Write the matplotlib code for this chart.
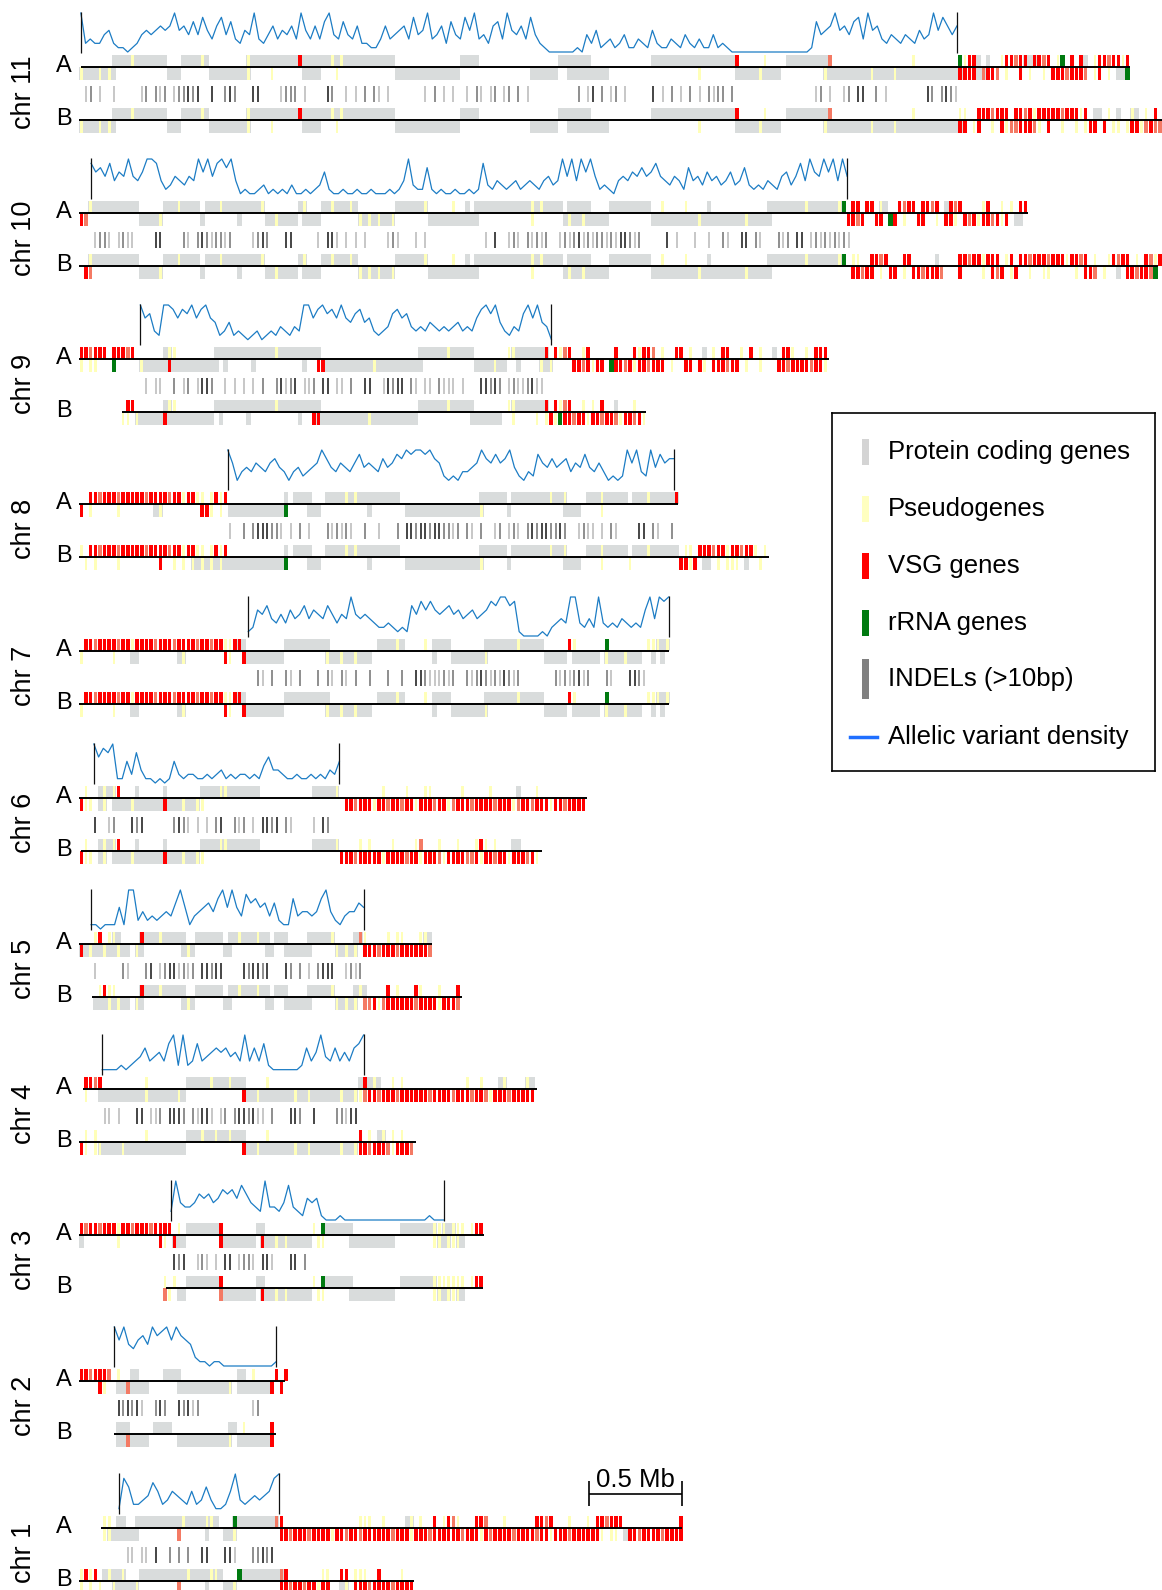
import re
import numpy as np
import matplotlib
matplotlib.use("Agg")
import matplotlib.pyplot as plt
from matplotlib.patches import Rectangle
from matplotlib.transforms import blended_transform_factory

plt.rcParams["font.family"] = ["Liberation Sans", "DejaVu Sans"]

# every feature / indel character is one 0.025 Mb bin, counted from 0 Mb
# codes: . nothing, g protein coding, y pseudogene, r VSG, o VSG (pale), G rRNA
# indels: a light, b mid, c dark.  "12g" = 12 bins of g
BIN = 0.025

CHROMS = ["chr 11", "chr 10", "chr 9", "chr 8", "chr 7", "chr 6",
          "chr 5", "chr 4", "chr 3", "chr 2", "chr 1"]

A_SPAN = [(0.01, 5.65), (0.0, 5.10), (0.0, 4.03), (0.0, 3.22), (0.0, 3.17), (0.0, 2.73),
          (0.0, 1.90), (0.02, 2.46), (0.0, 2.18), (0.0, 1.11), (0.12, 3.24)]
B_SPAN = [(0.0, 5.82), (0.0, 5.80), (0.23, 3.05), (0.0, 3.71), (0.0, 3.17), (0.01, 2.49),
          (0.07, 2.06), (0.0, 1.81), (0.47, 2.17), (0.19, 1.06), (0.0, 1.80)]
CORE = [(0.01, 4.72), (0.065, 4.13), (0.33, 2.54), (0.80, 3.20), (0.91, 3.17), (0.08, 1.40),
        (0.065, 1.53), (0.125, 1.53), (0.495, 1.96), (0.19, 1.06), (0.215, 1.075)]

# ---- chr 11
CHR11_A_TOP = ("7. 4g 1y 7g 3. 4g 1y 1g 8. 1y 10g 1r 6g 1y 1g 1y 11g 14. 4g 17. 7g 13. 18g 1r 5. 1y 4. 9g 1o 17. 1y 9. "
               "Gyrrg.g..yrrorrgrror.yG.r.rg.yrrorryr")
CHR11_A_BOT = ("1y 3g 1y 1g 1y 1g 11. 3g 6. 8g 1y 4. 1y 6. 4g 3. 1y 12. 14g 15. 6g 2. 9g 19. 1y 7. 5g 1y 4g 9. 1y 9g 1y 4g 1y 13g "
               "rrrrgorro.y..r.y..y.rrrorrro.yr.y.ggG")
CHR11_B_TOP = ("7. 4g 1y 7g 3. 4g 1y 1g 8. 1y 10g 1r 6g 1y 1g 1y 11g 14. 4g 17. 7g 13. 18g 1r 5. 1y 4. 9g 1o 17. 1y 9. "
               "yy..rrrorrr.rroryrrrrrorrryr.gg.y.g..yg.y.r.")
CHR11_B_BOT = ("1y 3g 1y 1g 1y 1g 11. 3g 6. 8g 1y 4. 1y 6. 4g 3. 1y 12. 14g 15. 6g 2. 9g 19. 1y 7. 5g 1y 4g 9. 1y 9g 1y 4g 1y 13g "
               "rr.yr..y.ryoorrroy.r..y..y.yrr.r.yy.yrryoroo")
# ---- chr 10
CHR10_A_TOP = ("2. 1y 10g 5. 3g 1y 4g 1. 3g 1y 8g 1y 7. 1g 1y 3. 2g 1y 3g 1y 1g 8. 6g 1y 5. 1y 2. 1g 1. 12g 1y 1g 1y 4g 1. "
               "5g 4. 9g 2. 1y 4. 1y 4. 1g 12. 8g 1y 6g 1y 1G .rr.rr.yg..rorr.rror.gror....yr..y.y.rr")
CHR10_A_BOT = ("1r 1o 11. 4g 1y 8. 1g 7. 1g 5. 2g 1y 4g 1. 4g 8. 1y 1g 1y 1g 1y 2g 1y 7. 11g 11. 1y 6. 1g 1y 2g 1y 5g 9. "
               "10g 1y 9g 1y 5g 16. rror..rr.G r.y..rr..y .rry.roryr roryr.gg.")
CHR10_B_TOP = ("2. 1y 10g 5. 3g 1y 4g 1. 3g 1y 8g 1y 7. 1g 1y 3. 2g 1y 3g 1y 1g 8. 6g 1y 5. 1y 2. 1g 1. 12g 1y 1g 1y 4g 1. "
               "5g 4. 9g 2. 1y 4. 1y 4. 1g 12. 8g 1y 6g 1y 1G "
               ".yy..rror. ..rr.....g ....rrorry rrr.yr.rro rrrorrryrr or.y..yror r.y.royr")
CHR10_B_BOT = ("1. 1r 1o 10. 4g 1y 8. 1g 7. 1g 5. 2g 1y 4g 1. 4g 8. 1y 1g 1y 1g 1y 2g 1y 7. 11g 11. 1y 6. 1g 1y 2g 1y 5g 9. "
               "10g 1y 9g 1y 5g 16. .rrorr.y.r r.y.rrorrr o...r....y .ror.yr..y ..yy.....y .rro.y..g. rrorroG.")
# ---- chr 9
CHR9_A_TOP = ("rrorrr.rrror 6. 1g 2y 8. 13g 1y 9g 21. 6g 1y 5g 7. 2y 6g 1r 1. ryor 2. 1y 1r 5. 1r 3. ryrro "
              ".y..rr.y..g.y.rr..y.r.y..g.rry..y.rrr")
CHR9_A_BOT = ("y.yy 3. 1G 5. 1y 5g 1r 10g 1. 1g 5. 1g 10. 1g 2. 2r 10g 1y 10g 11. 4g 1y 2g 2. 1g 4. 1y 1g 1y 4. "
              "rroryrr 1. 1G rroryrrorr r.y..rr.ry.rrrorr.y..y...rrorrrrorry")
CHR9_B_TOP = "10. rr 6. 1g 2y 8. 13g 1y 9g 21. 6g 1y 5g 7. 2y 6g 1r 1. ryor 2. 1y 1. 1y 1. 1r 2. 1g 3. 1y 2."
CHR9_B_BOT = ("9. 2y 1. 1y 5g 1r 10g 1. 1g 5. 1g 10. 1g 2. 2r 10g 1y 10g 11. 7g 2. 1y 4. 1y 1. 1y "
              "ryGrrorryrrorroyrrory")
# ---- chr 8
CHR8_A_TOP = ("2. rrorrrorrrrrorrrrorryrr yy.y ryr 12. 1g 1. 4g 3. 4g 1y 1g 1y 2g 7g 17. 6g 1. 8g 1y 2g 1y 4. "
              "3g 1y 5g 1. 3g 1y 5g 1r")
CHR8_A_BOT = ("1r 1. 1y 1. 4. 1y 7. 1g 1y 8. 2r 1y 1. 1y 1. 12g 1G 4. 3g 10. 1g 7. 16g 1y 5. 1g 11. 4g 4. 1y 15.")
CHR8_B_TOP = ("1y 1. rrorrrorrrrrorrrrorryrr yy.y ryr 12. 1g 1. 4g 3. 4g 1y 1g 1y 2g 7g 17. 6g 1. 8g 1y 2g 1y 4. "
              "3g 1y 5g 1. 3g 1y 5g 1g 1. 2y 1. rrrorryrrorr y.y.")
CHR8_B_BOT = ("1. 1y 1. 1y 4. 1y 8. 1r 2. 1y 1. 1y 1. 1y 1g 1y 1g 1y 1g 1y 1g 12g 1G 4. 3g 10. 1g 7. 16g 1y 5. "
              "1g 11. 4g 4. 1y 5. 1y 10. rryr 1. 2g 1. y.yyy. 1g 2. 1y 1.")
# ---- chr 7
CHR7_A_TOP = ("1. rrorrrrorryrrrrorrrorrrrorrorryyrr 1g 8. 10g 10. 4g 1y 1g 4. 1y 1. 4g 7. 7g 1y 5g 5. 1r 1y 6. "
              "1G 8. yyygy")
CHR7_A_BOT = ("1y 6. 1y 3. 2g 8. 1g 1y 8. 1r 1y 2. 1r 8g 9. 1y 2g 1y 2g 1y 3g 13. 1g 3. 7g 1y 12. 5g 1. 6g 1. "
              "1y 3g 1y 3g 2. 1g 1. 1g 1.")
CHR7_B_TOP = CHR7_A_TOP
CHR7_B_BOT = CHR7_A_BOT
# ---- chr 6
CHR6_A_TOP = ("1. 1y 2. 1g 1y 1g 1y 1r 3. 1g 5. 1g 7. 4g 2y 7g 11. 5g 1y 9. 1y 4. 1y 3. 2y 6. 1y 5. 1y 5. "
              "1g 3. 1y 10.")
CHR6_A_BOT = ("1r 2y 1. 1g 1y 1. 2g 2g 1y 6g 1r 3g 1y 2g 1y 1y 30. "
              "rrorrryrrorrorryrrrorryorrrorrrrorrryorrorrryrrorrrr")
CHR6_B_TOP = ("1. 1y 2. 1g 1y 1g 1y 1r 3. 1g 5. 1g 7. 4g 2y 7g 11. 5g 1y 4. 1y 1. 1y 4. 1y 4. 1y 1o 3. 1y 3. "
              "1y 3. 1y 1r 1y 1. 1y 3. 2g 3.")
CHR6_B_BOT = ("1r 2y 1. 1g 1y 1. 2g 2g 1y 6g 1r 3g 1y 2g 1y 1y 29. "
              "rrrorrrrryrrrrorryrrroyrrrrooryrrorryrrrory")
# ---- chr 5
CHR5_A_TOP = ("3. 1y 1r 1. 1y 1y 1g 4. 1r 3g 1y 5g 2. 6g 1. 2g 1y 3g 1y 2g 1. 3g 4. 5g 1y 4. 1g 1o 1y 4. 1y 1. "
              "2y 3. 2y 1g")
CHR5_A_BOT = ("1r 1g 1y 2g 1y 2g 1y 2g 1. 1y 1g 8. 1g 1y 1g 6. 2g 7. 2g 2. 6g 5. 1y 1g 1y 1g 1y 1. "
              "rrrorrrorrrrrro")
CHR5_B_TOP = ("4. 1y 1r 1y 1y 1. 4. 1r 3g 1y 5g 2. 6g 1. 2g 1y 3g 1y 2g 1. 3g 4. 5g 1y 4. 1g 1y 1g 4. 1r 1. "
              "1y 3. 1r 1y 3. 1y 3. 1r")
CHR5_B_BOT = ("3. 3g 1y 1g 1y 2g 1. 1y 1g 8. 1g 1y 1g 6. 2g 7. 2g 2. 6g 5. 1y 1g 1y 1g 1y 1. "
              "ooryorrrrrrorrrryrrro")
# ---- chr 4
CHR4_A_TOP = ("1. rror 9. 1y 8. 5g 1y 3g 1y 3g 4. 1y 19. 1g 1r 1g 1y 1g 2. 1y 1. 1y 13. 1y 2. 1y 3. 1g 1y 4. "
              "1y 1g")
CHR4_A_BOT = ("1. 1y 2. 10g 1y 6g 1y 1g 12. 1r 2g 1y 1g 1g 5g 1y 2g 1y 6g 1y 2g 1y 1y 1o "
              "rrorrrorrrrrrorrrrorrrorroyrrrorrrrr")
CHR4_B_TOP = "1. 1y 1. 1y 10. 1y 8. 3g 1y 2g 1y 2g 1y 3g 4. 1y 19. 1r 1. 1y 1. 1g 1y 1. 1y 1. 1y 2."
CHR4_B_BOT = ("1r 1y 1. 1y 1y 4g 1y 13g 12. 1r 2g 1y 1g 1g 5g 1y 2g 1y 6g 1y 2g 1y rrorrroyrrro")
# ---- chr 3
CHR3_A_TOP = "rorrorrryrrorrrorrrr 1. 1y 1. 7g 1r 7. 2g 10. 1y 1. 1G 6g 10. 7g 1y yygyyy.y rr"
CHR3_A_BOT = ("1g 7. 1y 8. 1r 1y 1. 1r 2g 7. 1r 7g 1. 1r 2g 1y 1g 1y 5g 1. 1y 1y 5. 10g 8. yygyyyg 4.")
CHR3_B_TOP = "18. 1y 1. 1y 2. 7g 1r 7. 2g 10. 1y 1. 1G 6g 10. 7g 1y yyyyyy.y 1r 1r"
CHR3_B_BOT = ("18. 1o 1y 1. 2g 7. 1o 7g 1. 1r 2g 1y 1g 1y 5g 1. 1y 1y 5. 10g 8. yygyyyg 2.")
# ---- chr 2
CHR2_A_TOP = "rrorrro 1. 1y 2. 2g 5. 4g 12. 2g 1. 1y 4. 1r 1. 1r"
CHR2_A_BOT = "4. 1r 1y 2. 2g 1o 4g 6. 11g 1y 1. 7g 1r 1. 1r"
CHR2_B_TOP = "8. 3g 5. 4g 12. 2g 1. 1y 5. 1r"
CHR2_B_BOT = "8. 2g 1o 4g 6. 11g 1y 1. 7g 1r"
# ---- chr 1
CHR1_A_TOP = ("5. 1y 1y 1. 2g 2. 10g 1y 4g 1y 1y 1g 3. 1G 8g 1o 1r 16. 1y 1y 1y 2. 1y 4. 1g 1y 1. 1y 2. 1r 1. "
              "1y 1r 1o 1y 3. 2r 1o 3. 1y 6. 2r 1o 1r 3. 1y 3. 1y 1. rrorrr 12. 1r")
CHR1_A_BOT = ("5. 1y 1y 1g 5g 8. 1o 5. 1g 3. 2g 1y 9. "
              "rrorrrorrr ryrrorrorr rrrrorrryr rrorrrrrro rrryrorrrr orrrrorryr rrorrrrrr "
              "y.yy.g rrorrrrorrrr")
CHR1_B_TOP = ("1y 1r 1y 1r 1. 1g 1y 2g 1y 3. 10g 1y 4g 1y 1y 1g 3. 1G 8g 1o 1r 7. 1y 1y 2. 2r 1. 1y 1y 1y 2. "
              "1r 4. 1y 2.")
CHR1_B_BOT = "1y 1. 1y 1. 1y 2. 1y 4g 1y 8. 1o 5. 1g 3. 2g 1y 9. rrorrorryr r..gy.rrro rrrrorrrr"

A_TOP = [CHR11_A_TOP, CHR10_A_TOP, CHR9_A_TOP, CHR8_A_TOP, CHR7_A_TOP, CHR6_A_TOP,
         CHR5_A_TOP, CHR4_A_TOP, CHR3_A_TOP, CHR2_A_TOP, CHR1_A_TOP]
A_BOT = [CHR11_A_BOT, CHR10_A_BOT, CHR9_A_BOT, CHR8_A_BOT, CHR7_A_BOT, CHR6_A_BOT,
         CHR5_A_BOT, CHR4_A_BOT, CHR3_A_BOT, CHR2_A_BOT, CHR1_A_BOT]
B_TOP = [CHR11_B_TOP, CHR10_B_TOP, CHR9_B_TOP, CHR8_B_TOP, CHR7_B_TOP, CHR6_B_TOP,
         CHR5_B_TOP, CHR4_B_TOP, CHR3_B_TOP, CHR2_B_TOP, CHR1_B_TOP]
B_BOT = [CHR11_B_BOT, CHR10_B_BOT, CHR9_B_BOT, CHR8_B_BOT, CHR7_B_BOT, CHR6_B_BOT,
         CHR5_B_BOT, CHR4_B_BOT, CHR3_B_BOT, CHR2_B_BOT, CHR1_B_BOT]

INDELS = [
    ".ab.a..a.. ...ab.bab. abbcbc..c. .bcb...cc. ...abbb.a. ...cb..a.a .b.ba.a... ....a.b.a. a..a.ba.ab "
    ".ab.b.a... .......b.a c.b.ab.a.. ...c.a.b.a .b.a.babb. b......... ........ab .a..ab.cc. .b.a...... ..cb.bcba",
    "...abba.ab aa....cc.. ..ba.bcbab bab....abc b...cc.... .a.cca.a.a .a....aba. ..a.a..... .......a.c "
    "..aba.baba b..ababcab abbabaccba b.....c.a. ..a..a..ba ..cc.ba... bab.cc.aba bababa",
    ".......... ....a.aa.. b.ab.accb. .a.a.a.a.b ..bcabc.aa b.cc.aa.b. .cc..acbcc .ba.aa.baa a.a...ccbc b.abaabcaa ..",
    "30. ..a..b.bcc cbba.a.b.a ...bababa. .b..a...b. ccbccbccbb ab.ba.b..a b.aba.bcbc cbbcb..aba a.a.ba.... cc.ba..b.",
    "37. .ba.b..ba. b...b.ba.b a.b..b...b ..b..ccbaa abab..babc babacbab.. .....babab cab...ba.. .ccba.....",
    "...c..ab.. .cbc...... bcba.a.a.b c..bab.a.c cbc.ba.... a.cb..",
    "...a.....b a...bc.abc cabab.ccbc c....cbccb c...cb.b.a .bccc..aba b.",
    ".....aa.a. ..cc.aab.c ccb.bacca. ab.bccbcaa .b...ccb.. c....bbacc ..",
    "20. cbc..aba.a.cc.abba.cca...cc.b 30.",
    "8. cbcbca..bcb..cbcab 11. ab 4.",
    "10. aa.aa.c..b.b.b..cc...cca...bbcbc..",
]

# allelic variant density, 0-9, one digit per 0.025 Mb across the core
DENSITY = [
    "9232245211 0124545656 9564748536 8473254932 4635463953 6379437436 221136345 "
    "638459346274385934267395463842 100000010 425123124113215211321421 3114121000000000000000001 "
    "7456956478 3956324324 3253495864 6",
    "86 758465 9 546 998 423543549 69589794 12112312121311212 36 211211211211121 249 3227 21211211 2128 "
    "3243234234324534 959496 9523214 54657568 5435427 45364534634 7323 24325 6358496 5969495",
    "96732 998 687968965 23523 2123123243243 996 897869 657856 3234 7867 43435434345343 689795 3243 7969 541",
    "962 45465467 54245345 697 546546 8565 475687 98998976 32324 4569 7686 795 3243 8657567 4658 5464 2323 96943958677",
    "12 6574 353 6457465 475 3549 5454 32232 121 758 6865 6756 45645 6879 978 1000010 2343 993 242 93 23243232 694989",
    "96879 11527 31101 015 2122112123 121221214 6332 11211212 1325",
    "1101115 199 242 3234 36951 3456 47959 5386 7563 621 173 4434 794 213 4465",
    "11112 1234 6345 379 292 373 4565 645 39363 721 111112 635 94 3635 3679",
    "2943 3465 6457 6758 64329 33248 3215 451 0001 000000000 000000000 1000",
    "96954675978969765 211011000000000001",
    "1862 2347 5235 4325 2363 1125 9323 434589",
]

LEGEND_LABELS = ["Protein coding genes", "Pseudogenes", "VSG genes", "rRNA genes",
                 "INDELs (>10bp)", "Allelic variant density"]
SCALE_MB = 0.5

GREY = "#d9dcdc"
YELLOW = "#ffffb8"
RED = "#ff0000"
PALE = "#f47a64"
GREEN = "#007a10"
BLUE = "#1c7cc4"
INDEL_COL = {"a": "#bdbdbd", "b": "#7c7c7c", "c": "#262626"}


def decode(s):
    out = []
    for tok in s.split():
        m = re.fullmatch(r"(\d+)(\D)", tok)
        out.append(m.group(2) * int(m.group(1)) if m else tok)
    return "".join(out)


def merged(idx):
    out = []
    for i in idx:
        if out and out[-1][1] == i:
            out[-1][1] = i + 1
        else:
            out.append([i, i + 1])
    return [(a * BIN, (b - a) * BIN) for a, b in out]


fig = plt.figure(figsize=(11.62, 15.90), dpi=100)
ax = fig.add_axes([0, 0, 1, 1])
ax.set_xlim(-79 / 186, (1162 - 79) / 186)
ax.set_ylim(1590, 0)
ax.axis("off")


def draw_strand(code, y, h):
    s = decode(code)
    n = len(s)
    bg = [i for i, c in enumerate(s)
          if c == "g" or (c != "." and ((i > 0 and s[i - 1] == "g") or (i + 1 < n and s[i + 1] == "g")))]
    ax.broken_barh(merged(bg), (y, h), facecolors=GREY, linewidth=0)
    for ch, col, w in [("y", YELLOW, 0.55), ("o", PALE, 0.75), ("r", RED, 0.75), ("G", GREEN, 0.9)]:
        xr = [(i * BIN + BIN * (1 - w) / 2, BIN * w) for i, c in enumerate(s) if c == ch]
        if xr:
            ax.broken_barh(xr, (y, h), facecolors=col, linewidth=0)


ROW_Y = [67, 213, 359, 504, 651, 798, 944, 1089, 1235, 1381, 1528]
B_OFF = 53
lab = blended_transform_factory(ax.transAxes, ax.transData)

for k, name in enumerate(CHROMS):
    ya = ROW_Y[k]
    yb = ya + B_OFF
    # genes
    draw_strand(A_TOP[k], ya - 12, 12)
    draw_strand(A_BOT[k], ya, 13)
    draw_strand(B_TOP[k], yb - 12, 12)
    draw_strand(B_BOT[k], yb, 13)
    ax.hlines(ya, *A_SPAN[k], color="black", lw=1.4)
    ax.hlines(yb, *B_SPAN[k], color="black", lw=1.4)
    # indels
    s = decode(INDELS[k])
    for ch, col in INDEL_COL.items():
        xs = [(i + 0.5) * BIN for i, c in enumerate(s) if c == ch]
        if xs:
            ax.vlines(xs, ya + 19, ya + 35, colors=col, lw=1.2)
    # density
    cs, ce = CORE[k]
    vals = np.array([int(c) for c in DENSITY[k] if c.isdigit()])
    xd = np.linspace(cs, ce, len(vals))
    ax.plot(xd, (ya - 15) - vals / 9 * 39, color=BLUE, lw=0.9)
    ax.vlines([cs, ce], ya - 55, ya - 14, color="#111111", lw=0.9)
    # labels
    ax.text(24 / 1162, ya + 25, name, rotation=90, fontsize=19.5, ha="center", va="center", transform=lab)
    ax.text(64 / 1162, ya - 1, "A", fontsize=17, ha="center", va="center", transform=lab)
    ax.text(64 / 1162, yb - 1, "B", fontsize=17, ha="center", va="center", transform=lab)

# scale bar, right end on chr 1 A end
x1 = A_SPAN[-1][1]
x0 = x1 - SCALE_MB
ax.hlines(1494, x0, x1, color="black", lw=1.2)
ax.vlines([x0, x1], 1481, 1506, color="black", lw=1.2)
ax.text((x0 + x1) / 2, 1487, f"{SCALE_MB} Mb", fontsize=18.5, ha="center", va="baseline")

# legend
lax = fig.add_axes([832 / 1162, 1 - 771 / 1590, (1155 - 832) / 1162, (771 - 413) / 1590])
lax.set_xlim(832, 1155)
lax.set_ylim(771, 413)
lax.set_xticks([])
lax.set_yticks([])
for sp in lax.spines.values():
    sp.set_linewidth(1.2)
leg_y = [452, 509, 566, 623, 679, 737]
leg_col = ["#d4d4d4", "#ffffc0", RED, GREEN, "#808080"]
for i, (label, y) in enumerate(zip(LEGEND_LABELS, leg_y)):
    if i < 4:
        lax.add_patch(Rectangle((862, y - 13), 7, 26, color=leg_col[i], lw=0))
    elif i == 4:
        lax.add_patch(Rectangle((862, y - 20), 7, 40, color=leg_col[i], lw=0))
    else:
        lax.plot([850, 877], [y, y], color="#1f6fff", lw=2.5)
    lax.text(888, y, label, fontsize=18.5, va="center")

fig.savefig("out.png", dpi=100)
